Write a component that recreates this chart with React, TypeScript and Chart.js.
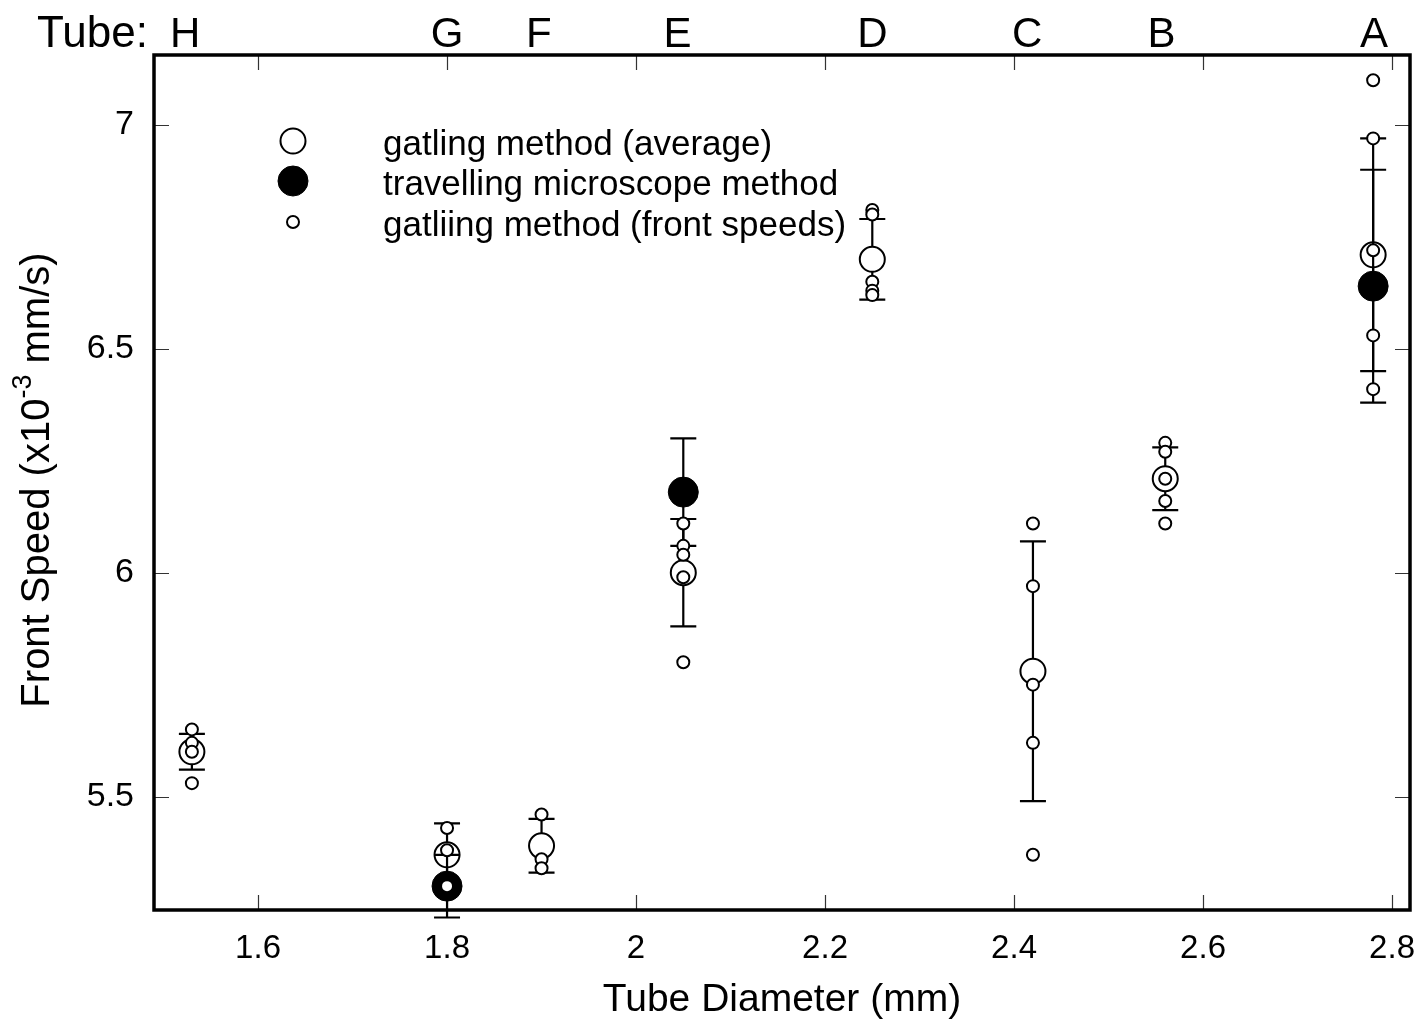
import React, { useEffect, useRef } from 'react';
import { Chart, registerables } from 'chart.js';

Chart.register(...registerables);

const FONT = '"Liberation Sans", Arial, Helvetica, sans-serif';

// ---- data ----
const tubes = ['H', 'G', 'F', 'E', 'D', 'C', 'B', 'A'];
const tubeDiameters = [1.53, 1.8, 1.9, 2.05, 2.25, 2.42, 2.56, 2.78];
const tubeLabelPositions = [1.523, 1.8, 1.897, 2.044, 2.25, 2.414, 2.556, 2.781];

const gatlingAverage = [5.6, 5.37, 5.39, 6.0, 6.7, 5.78, 6.21, 6.71];
const gatlingError = [0.04, 0.07, 0.06, 0.12, 0.09, 0.29, 0.07, 0.26];

const travellingDiameters = [1.8, 2.05, 2.78];
const travellingSpeed = [5.3, 6.18, 6.64];
const travellingError = [0.07, 0.12, 0.26];

const frontH = [5.65, 5.62, 5.6, 5.53];
const frontG = [5.43, 5.38, 5.3];
const frontF = [5.46, 5.36, 5.34];
const frontE = [6.11, 6.06, 6.04, 5.99, 5.8];
const frontD = [6.81, 6.8, 6.65, 6.63, 6.62];
const frontC = [6.11, 5.97, 5.75, 5.62, 5.37];
const frontB = [6.29, 6.27, 6.21, 6.16, 6.11];
const frontA = [7.1, 6.97, 6.72, 6.53, 6.41];
const frontSpeeds = [frontH, frontG, frontF, frontE, frontD, frontC, frontB, frontA];

const xTicks = [1.6, 1.8, 2.0, 2.2, 2.4, 2.6, 2.8];
const yTicks = [5.5, 6, 6.5, 7];

const legendLabels = [
  'gatling method (average)',
  'travelling microscope method',
  'gatliing method (front speeds)',
];

// ---- helpers ----
function drawErrorBars(chart: any, xs: number[], ys: number[], errs: number[]) {
  const ctx = chart.ctx;
  const xs_ = chart.scales.x;
  const ys_ = chart.scales.y;
  ctx.save();
  ctx.strokeStyle = '#000';
  ctx.lineWidth = 2.2;
  xs.forEach((xv, i) => {
    const px = xs_.getPixelForValue(xv);
    const top = ys_.getPixelForValue(ys[i] + errs[i]);
    const bot = ys_.getPixelForValue(ys[i] - errs[i]);
    ctx.beginPath();
    ctx.moveTo(px, top);
    ctx.lineTo(px, bot);
    ctx.moveTo(px - 13, top);
    ctx.lineTo(px + 13, top);
    ctx.moveTo(px - 13, bot);
    ctx.lineTo(px + 13, bot);
    ctx.stroke();
  });
  ctx.restore();
}

function circle(ctx: CanvasRenderingContext2D, x: number, y: number, r: number, fill: string, lw: number) {
  ctx.beginPath();
  ctx.arc(x, y, r, 0, Math.PI * 2);
  ctx.fillStyle = fill;
  ctx.fill();
  ctx.lineWidth = lw;
  ctx.strokeStyle = '#000';
  ctx.stroke();
}

const decorPlugin = {
  id: 'decor',
  beforeDatasetsDraw(chart: any) {
    const { ctx, chartArea: a } = chart;
    const xs = chart.scales.x;
    const ys = chart.scales.y;
    ctx.save();
    ctx.strokeStyle = '#333';
    ctx.lineWidth = 1.2;
    ctx.beginPath();
    xTicks.forEach((v) => {
      const px = Math.round(xs.getPixelForValue(v)) + 0.5;
      ctx.moveTo(px, a.bottom);
      ctx.lineTo(px, a.bottom - 15);
      ctx.moveTo(px, a.top);
      ctx.lineTo(px, a.top + 15);
    });
    yTicks.forEach((v) => {
      const py = Math.round(ys.getPixelForValue(v)) + 0.5;
      ctx.moveTo(a.left, py);
      ctx.lineTo(a.left + 15, py);
      ctx.moveTo(a.right, py);
      ctx.lineTo(a.right - 15, py);
    });
    ctx.stroke();
    ctx.restore();
  },
  beforeDatasetDraw(chart: any, args: any) {
    if (args.index === 2) drawErrorBars(chart, tubeDiameters, gatlingAverage, gatlingError);
    if (args.index === 1) drawErrorBars(chart, travellingDiameters, travellingSpeed, travellingError);
  },
  afterDraw(chart: any) {
    const { ctx, chartArea: a } = chart;
    const xs = chart.scales.x;
    ctx.save();
    // frame
    ctx.strokeStyle = '#000';
    ctx.lineWidth = 3.5;
    ctx.strokeRect(a.left, a.top, a.right - a.left, a.bottom - a.top);

    // top tube labels
    ctx.fillStyle = '#000';
    ctx.font = `44px ${FONT}`;
    ctx.textBaseline = 'alphabetic';
    ctx.textAlign = 'left';
    ctx.fillText('Tube:', 37, 47);
    ctx.font = `42px ${FONT}`;
    ctx.textAlign = 'center';
    tubes.forEach((t, i) => {
      ctx.fillText(t, xs.getPixelForValue(tubeLabelPositions[i]), 47);
    });

    // legend
    const lx = 293;
    const rows = [141, 181, 222];
    circle(ctx, lx, rows[0], 12.5, '#fff', 2);
    circle(ctx, lx, rows[1], 15, '#000', 1);
    circle(ctx, lx, rows[2], 6, '#fff', 2);
    ctx.fillStyle = '#000';
    ctx.font = `35px ${FONT}`;
    ctx.textAlign = 'left';
    ctx.textBaseline = 'alphabetic';
    legendLabels.forEach((t, i) => ctx.fillText(t, 383, rows[i] + 14));

    // y axis title with superscript
    ctx.translate(38, 480);
    ctx.rotate(-Math.PI / 2);
    ctx.textBaseline = 'middle';
    ctx.textAlign = 'left';
    const big = `40px ${FONT}`;
    const small = `27px ${FONT}`;
    const p1 = 'Front Speed (x10';
    const p2 = '-3';
    const p3 = ' mm/s)';
    ctx.font = big;
    const w1 = ctx.measureText(p1).width;
    const w3 = ctx.measureText(p3).width;
    ctx.font = small;
    const w2 = ctx.measureText(p2).width;
    const total = w1 + w2 + w3;
    let x0 = -total / 2;
    ctx.font = big;
    ctx.fillText(p1, x0, 0);
    x0 += w1;
    ctx.font = small;
    ctx.fillText(p2, x0, -14);
    x0 += w2;
    ctx.font = big;
    ctx.fillText(p3, x0, 0);
    ctx.restore();
  },
};

export default function App() {
  const ref = useRef<HTMLCanvasElement | null>(null);

  useEffect(() => {
    if (!ref.current) return;
    const frontPoints: { x: number; y: number }[] = [];
    frontSpeeds.forEach((arr, i) => arr.forEach((v) => frontPoints.push({ x: tubeDiameters[i], y: v })));

    const chart = new Chart(ref.current, {
      type: 'scatter',
      data: {
        datasets: [
          {
            label: legendLabels[2],
            data: frontPoints,
            pointRadius: 6,
            pointBorderWidth: 2,
            pointBackgroundColor: '#fff',
            pointBorderColor: '#000',
            clip: false as any,
          },
          {
            label: legendLabels[1],
            data: travellingDiameters.map((x, i) => ({ x, y: travellingSpeed[i] })),
            pointRadius: 15,
            pointBorderWidth: 1,
            pointBackgroundColor: '#000',
            pointBorderColor: '#000',
            clip: false as any,
          },
          {
            label: legendLabels[0],
            data: tubeDiameters.map((x, i) => ({ x, y: gatlingAverage[i] })),
            pointRadius: 12.5,
            pointBorderWidth: 2,
            pointBackgroundColor: '#fff',
            pointBorderColor: '#000',
            clip: false as any,
          },
        ],
      },
      options: {
        animation: false,
        responsive: false,
        devicePixelRatio: 1,
        events: [],
        layout: { autoPadding: false, padding: { top: 55, right: 12, left: 0, bottom: 0 } },
        plugins: { legend: { display: false }, tooltip: { enabled: false } },
        scales: {
          x: {
            type: 'linear',
            position: 'bottom',
            min: 1.4899,
            max: 2.819,
            afterBuildTicks: (s: any) => {
              s.ticks = xTicks.map((v) => ({ value: v }));
            },
            afterFit: (s: any) => {
              s.height = 114;
              s.paddingLeft = 0;
              s.paddingRight = 0;
            },
            grid: { display: false, drawTicks: false },
            border: { display: false },
            ticks: {
              color: '#000',
              font: { family: FONT, size: 33 },
              padding: 19,
              maxRotation: 0,
              autoSkip: false,
              callback: (v: any) => String(Math.round(Number(v) * 10) / 10),
            },
            title: {
              display: true,
              text: 'Tube Diameter (mm)',
              color: '#000',
              font: { family: FONT, size: 39 },
              padding: 0,
            },
          },
          y: {
            type: 'linear',
            position: 'left',
            min: 5.2467,
            max: 7.15625,
            afterBuildTicks: (s: any) => {
              s.ticks = yTicks.map((v) => ({ value: v }));
            },
            afterFit: (s: any) => {
              s.width = 154;
              s.paddingTop = 0;
              s.paddingBottom = 0;
            },
            grid: { display: false, drawTicks: false },
            border: { display: false },
            ticks: {
              color: '#000',
              font: { family: FONT, size: 34 },
              padding: 20,
              autoSkip: false,
              callback: (v: any) => String(Math.round(Number(v) * 10) / 10),
            },
          },
        },
      },
      plugins: [decorPlugin],
    } as any);
    return () => chart.destroy();
  }, []);

  return (
    <div style={{ position: 'fixed', left: 0, top: 0, width: 1422, height: 1024, background: '#fff' }}>
      <canvas ref={ref} width={1422} height={1024} style={{ display: 'block' }} />
    </div>
  );
}
